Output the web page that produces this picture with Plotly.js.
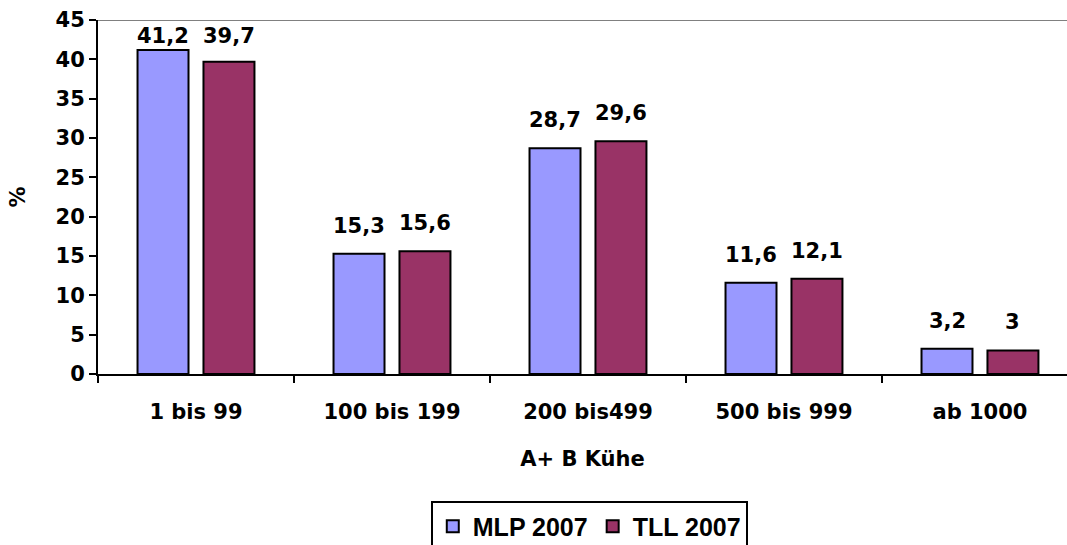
<!DOCTYPE html>
<html>
<head>
<meta charset="utf-8">
<script src="https://cdn.plot.ly/plotly-3.0.1.min.js"></script>
<style>html,body{margin:0;padding:0;background:#fff;}#chart{width:1067px;height:545px;}</style>
</head>
<body>
<div id="chart"></div>
<script>
const categories = ["1 bis 99", "100 bis 199", "200 bis499", "500 bis 999", "ab 1000"];
const mlp2007 = [41.2, 15.3, 28.7, 11.6, 3.2];
const tll2007 = [39.7, 15.6, 29.6, 12.1, 3];
const seriesNames = ["MLP 2007", "TLL 2007"];
const seriesColors = ['#9999FF', '#993366'];
const yTicks = [0, 5, 10, 15, 20, 25, 30, 35, 40, 45];

const FONT = "'DejaVu Sans', Verdana, sans-serif";
const LFONT = "'Liberation Sans', Arial, sans-serif";
const FS = 21;
const fmt = v => String(v).replace('.', ',');

const W = 1067, H = 545;
const M = {l: 98, r: 0, t: 20, b: 171, autoexpand: false};
const xRange = [-0.5, 4.444];
const yRange = [0, 45];
const BARGAP = 0.327;

const plotW = W - M.l - M.r, plotH = H - M.t - M.b;
const catPx = plotW / (xRange[1] - xRange[0]);
const slotPx = (1 - BARGAP) * catPx / 2;
const ppu = plotH / (yRange[1] - yRange[0]);

const series = [mlp2007, tll2007];

const data = series.map((vals, i) => ({
  type: 'bar', name: seriesNames[i], x: categories, y: vals,
  marker: {color: seriesColors[i], line: {color: '#000', width: 2}},
  hoverinfo: 'none'
}));

const annotations = [];
series.forEach((vals, i) => {
  const xs = (i - 0.5) * slotPx;
  vals.forEach((v, j) => {
    const avail = (yRange[1] - v) * ppu - 3;
    const ys = Math.max(0, Math.min(14, avail - 27));
    annotations.push({
      x: categories[j], y: v, xref: 'x', yref: 'y',
      text: fmt(v), showarrow: false, xanchor: 'center', yanchor: 'bottom',
      xshift: xs, yshift: ys,
      font: {family: FONT, size: FS, color: '#000', weight: 'bold'}
    });
  });
});

const layout = {
  width: W, height: H,
  margin: M,
  paper_bgcolor: '#fff', plot_bgcolor: '#fff',
  font: {family: FONT, size: FS, color: '#000', weight: 'bold'},
  barmode: 'group', bargap: BARGAP, bargroupgap: 0.227,
  showlegend: true,
  legend: {
    orientation: 'h', x: 0.507, xanchor: 'center', y: -0.36, yanchor: 'top',
    bordercolor: '#000', borderwidth: 2,
    font: {family: LFONT, size: 25, color: '#000', weight: 'bold'},
    itemwidth: 30, traceorder: 'normal'
  },
  xaxis: {
    type: 'category', range: xRange, fixedrange: true,
    showline: true, linecolor: '#000', linewidth: 2,
    ticks: 'outside', tickson: 'boundaries', ticklen: 7, tickwidth: 2, tickcolor: '#000',
    ticklabelstandoff: 18,
    showgrid: false, zeroline: false,
    tickfont: {family: FONT, size: FS, color: '#000', weight: 'bold'},
    title: {text: 'A+ B Kühe', standoff: 28, font: {family: FONT, size: FS, color: '#000', weight: 'bold'}},
    automargin: false
  },
  yaxis: {
    range: yRange, fixedrange: true,
    tickvals: yTicks, ticktext: yTicks.map(String),
    showline: true, linecolor: '#000', linewidth: 2,
    ticks: 'outside', ticklen: 7, tickwidth: 2, tickcolor: '#000',
    showgrid: false, zeroline: false,
    tickfont: {family: FONT, size: FS, color: '#000', weight: 'bold'},
    title: {text: '%', standoff: 24, font: {family: FONT, size: FS, color: '#000', weight: 'bold'}},
    automargin: false
  },
  annotations: annotations,
  shapes: [{
    type: 'line', xref: 'paper', yref: 'y', x0: 0, x1: 1, y0: 45, y1: 45,
    line: {color: '#808080', width: 2}
  }]
};

Plotly.newPlot('chart', data, layout, {displayModeBar: false, staticPlot: true});
</script>
</body>
</html>
